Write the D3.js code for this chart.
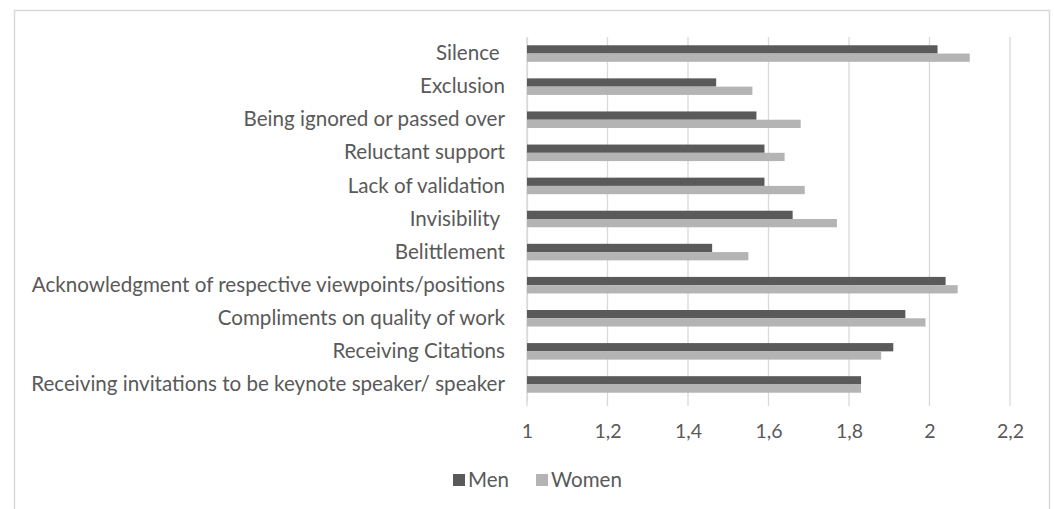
<!DOCTYPE html>
<html>
<head>
<meta charset="utf-8">
<script src="https://cdn.jsdelivr.net/npm/d3@7"></script>
<style>
  html, body { margin: 0; padding: 0; background: #fff; }
  svg { display: block; }
</style>
</head>
<body>
<svg id="chart" width="1054" height="509"></svg>
<script>
const categories = [
  'Silence ',
  'Exclusion',
  'Being ignored or passed over',
  'Reluctant support',
  'Lack of validation',
  'Invisibility ',
  'Belittlement',
  'Acknowledgment of respective viewpoints/positions',
  'Compliments on quality of work',
  'Receiving Citations',
  'Receiving invitations to be keynote speaker/ speaker'
]
const menValues = [2.02, 1.47, 1.57, 1.59, 1.59, 1.66, 1.46, 2.04, 1.94, 1.91, 1.83]
const womenValues = [2.10, 1.56, 1.68, 1.64, 1.69, 1.77, 1.55, 2.07, 1.99, 1.88, 1.83]
const seriesNames = ['Men', 'Women']
const xTicks = [1, 1.2, 1.4, 1.6, 1.8, 2, 2.2]

const colors = { Men: '#5a5a5a', Women: '#b4b4b4' }
const textColor = '#595959'
const gridColor = '#d9d9d9'
const font = 'Lato, "Open Sans", sans-serif'

const svg = d3.select('#chart')

// outer frame
svg.append('rect')
  .attr('x', 14.5)
  .attr('y', 10.5)
  .attr('width', 1035)
  .attr('height', 510)
  .attr('fill', 'none')
  .attr('stroke', '#d9d9d9')
  .attr('stroke-width', 1.5)

const plot = { left: 527, right: 1010, top: 37, bottom: 401 }

const x = d3.scaleLinear()
  .domain([1, 2.2])
  .range([plot.left, plot.right])

const y = d3.scaleBand()
  .domain(categories)
  .range([plot.top, plot.bottom])
  .paddingInner(0.5)
  .paddingOuter(0.25)

const ySub = d3.scaleBand()
  .domain(seriesNames)
  .range([0, y.bandwidth()])

// gridlines
svg.append('g')
  .selectAll('line')
  .data(xTicks)
  .join('line')
  .attr('x1', d => x(d))
  .attr('x2', d => x(d))
  .attr('y1', plot.top)
  .attr('y2', plot.bottom + 5)
  .attr('stroke', gridColor)
  .attr('stroke-width', 1.3)

// x axis labels
const xAxis = svg.append('g')
  .attr('transform', `translate(0, ${plot.bottom})`)
  .call(d3.axisBottom(x)
    .tickValues(xTicks)
    .tickSize(0)
    .tickPadding(23)
    .tickFormat(d => String(d).replace('.', ',')))
xAxis.select('.domain').remove()
xAxis.selectAll('text')
  .attr('fill', textColor)
  .attr('font-family', font)
  .attr('font-size', 19.5)

// y axis labels
const yAxis = svg.append('g')
  .attr('transform', `translate(${plot.left}, 0)`)
  .call(d3.axisLeft(y).tickSize(0).tickPadding(22))
yAxis.select('.domain')
  .attr('stroke', gridColor)
  .attr('stroke-width', 1.3)
yAxis.selectAll('text')
  .attr('fill', textColor)
  .attr('font-family', font)
  .attr('font-size', 20.6)
  .style('white-space', 'pre')

// bars
const rows = categories.map((c, i) => ({ category: c, Men: menValues[i], Women: womenValues[i] }))

svg.append('g')
  .selectAll('g')
  .data(rows)
  .join('g')
  .attr('transform', d => `translate(0, ${y(d.category)})`)
  .selectAll('rect')
  .data(d => seriesNames.map(s => ({ series: s, value: d[s] })))
  .join('rect')
  .attr('x', x(1))
  .attr('y', d => ySub(d.series))
  .attr('width', d => x(d.value) - x(1))
  .attr('height', ySub.bandwidth())
  .attr('fill', d => colors[d.series])

// legend
const legendItems = [
  { name: 'Men', x: 453 },
  { name: 'Women', x: 536 }
]
const legend = svg.append('g')
  .selectAll('g')
  .data(legendItems)
  .join('g')
  .attr('transform', d => `translate(${d.x}, 474)`)

legend.append('rect')
  .attr('width', 12)
  .attr('height', 12)
  .attr('fill', d => colors[d.name])

legend.append('text')
  .attr('x', 15)
  .attr('y', 6)
  .attr('dy', '0.35em')
  .attr('fill', textColor)
  .attr('font-family', font)
  .attr('font-size', 20.5)
  .text(d => d.name)
</script>
</body>
</html>
